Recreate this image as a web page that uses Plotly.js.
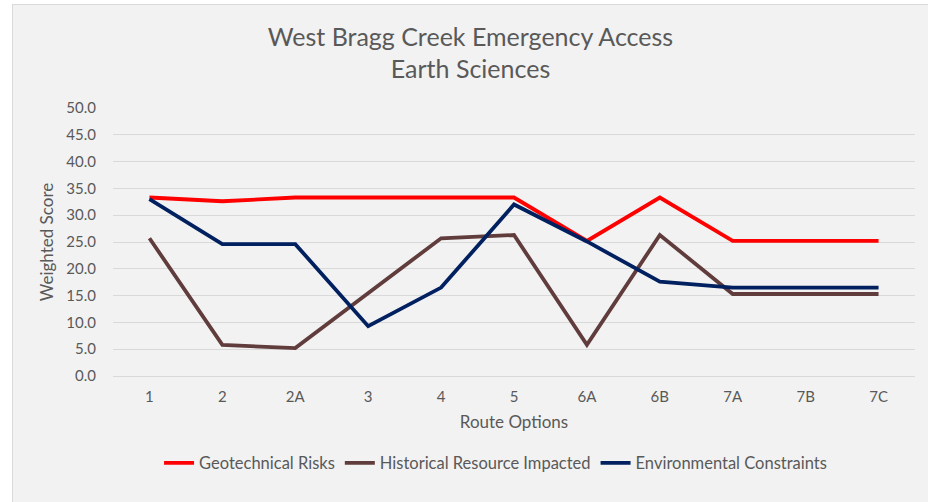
<!DOCTYPE html>
<html>
<head>
<meta charset="utf-8">
<script src="https://cdn.plot.ly/plotly-3.0.1.min.js"></script>
<style>
  html, body { margin: 0; padding: 0; background: #ffffff; width: 928px; height: 502px; overflow: hidden; }
  #frame { position: absolute; left: 12px; top: 4px; width: 915px; height: 497px; border: 1px solid #d9d9d9; background: #f2f2f2; }
  #chart { width: 915px; height: 497px; }
</style>
</head>
<body>
<div id="frame"><div id="chart"></div></div>
<script>
const routes = ["1", "2", "2A", "3", "4", "5", "6A", "6B", "7A", "7B", "7C"];
const geotechnical = [33.3, 32.6, 33.3, 33.3, 33.3, 33.3, 25.2, 33.3, 25.2, 25.2, 25.2];
const historical = [25.7, 5.8, 5.2, 15.4, 25.7, 26.3, 5.8, 26.3, 15.3, 15.3, 15.3];
const environmental = [33.0, 24.6, 24.6, 9.3, 16.5, 32.0, 25.1, 17.6, 16.5, 16.5, 16.5];
const seriesNames = ["Geotechnical Risks", "Historical Resource Impacted", "Environmental Constraints"];
const yTicks = [0, 5, 10, 15, 20, 25, 30, 35, 40, 45, 50];

const font = "Lato, 'Open Sans', sans-serif";
const colors = ["#ff0000", "#603c3c", "#002060"];
const data = [geotechnical, historical, environmental].map((vals, i) => ({
  type: "scatter",
  mode: "lines",
  x: routes,
  y: vals,
  name: seriesNames[i],
  line: { color: colors[i], width: 3.8 }
}));

const layout = {
  width: 915,
  height: 497,
  paper_bgcolor: "#f2f2f2",
  plot_bgcolor: "#f2f2f2",
  margin: { l: 100, r: 13, t: 103, b: 126 },
  font: { family: font, color: "#595959", size: 15 },
  title: {
    text: "West Bragg Creek Emergency Access<br>Earth Sciences",
    font: { family: font, size: 25, color: "#595959" },
    x: 0.5, xref: "container", xanchor: "center",
    y: 0.918, yref: "container", yanchor: "middle"
  },
  xaxis: {
    type: "category",
    range: [-0.5, 10.5],
    showgrid: false,
    zeroline: false,
    showline: false,
    ticks: "outside", ticklen: 7, tickcolor: "rgba(0,0,0,0)",
    tickfont: { family: font, size: 15, color: "#595959" },
    title: { text: "Route Options", font: { family: font, size: 17, color: "#595959" }, standoff: 12 }
  },
  yaxis: {
    range: [0, 50],
    tickvals: yTicks,
    ticktext: yTicks.map(v => v.toFixed(1)),
    showgrid: true, gridcolor: "#d9d9d9", gridwidth: 1,
    zeroline: true, zerolinecolor: "#d9d9d9", zerolinewidth: 1,
    showline: false,
    ticks: "outside", ticklen: 13, tickcolor: "rgba(0,0,0,0)",
    tickfont: { family: font, size: 15, color: "#595959" },
    title: { text: "Weighted Score", font: { family: font, size: 17, color: "#595959" }, standoff: 8 }
  },
  showlegend: true,
  legend: {
    orientation: "h",
    x: 0.477, xanchor: "center",
    y: -0.325, yanchor: "middle",
    bgcolor: "rgba(0,0,0,0)",
    itemwidth: 30,
    font: { family: font, size: 16.5, color: "#595959" }
  }
};

Plotly.newPlot("chart", data, layout, { displayModeBar: false, staticPlot: true });
</script>
</body>
</html>
